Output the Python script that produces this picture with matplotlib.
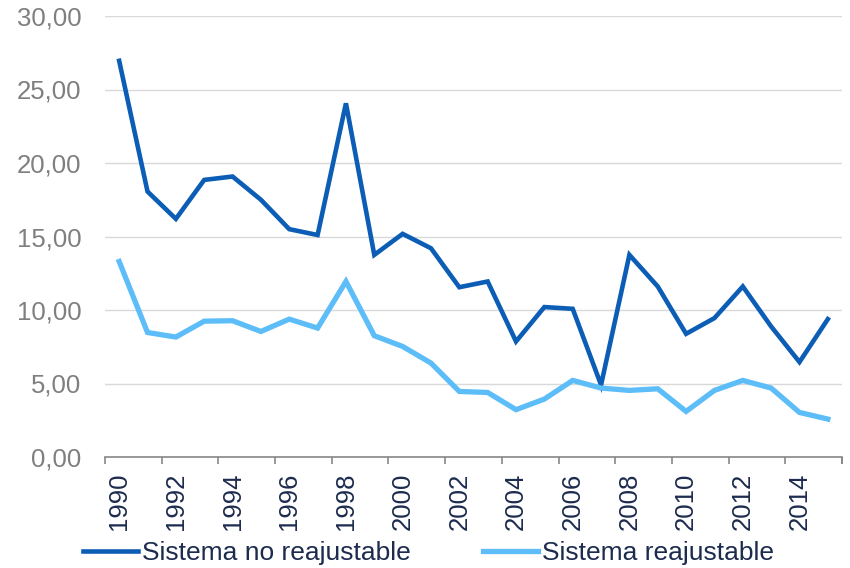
import matplotlib
matplotlib.use("Agg")
import matplotlib.pyplot as plt
from matplotlib.ticker import FixedLocator, FuncFormatter

plt.rcParams['font.family'] = ['Liberation Sans', 'DejaVu Sans']

years = list(range(1990, 2016))
no_reajustable = [26.95, 18.06, 16.2, 18.85, 19.08, 17.5, 15.5, 15.1, 24.06, 13.75,
                  15.18, 14.2, 11.55, 11.94, 7.86, 10.2, 10.08, 4.9, 13.75, 11.6,
                  8.38, 9.45, 11.6, 8.88, 6.46, 9.38]
reajustable = [13.3, 8.47, 8.16, 9.24, 9.27, 8.54, 9.38, 8.77, 11.94, 8.25,
               7.52, 6.39, 4.46, 4.39, 3.22, 3.94, 5.21, 4.69, 4.53, 4.64,
               3.1, 4.53, 5.21, 4.69, 3.03, 2.58]
series_names = ["Sistema no reajustable", "Sistema reajustable"]
y_ticks = [0, 5, 10, 15, 20, 25, 30]

dark = "#0B5DB5"
light = "#5CBDF9"
navy = "#1C2B4E"
gray = "#7F7F7F"

fig = plt.figure(figsize=(8.5, 5.68), dpi=100)
ax = fig.add_axes([105/850, 1 - 457/568, (842 - 105)/850, (457 - 16)/568])

x = list(range(len(years)))
ax.plot(x, no_reajustable, color=dark, lw=3.3, solid_joinstyle='miter', label=series_names[0], zorder=3)
ax.plot(x, reajustable, color=light, lw=3.8, solid_joinstyle='miter', label=series_names[1], zorder=3)

ax.set_xlim(-0.5, len(years) - 0.5)
ax.set_ylim(0, 30)

ax.set_yticks(y_ticks)
ax.yaxis.set_major_formatter(FuncFormatter(lambda v, p: f"{v:.2f}".replace('.', ',')))
ax.tick_params(axis='y', length=0, pad=17, labelsize=18.5, labelcolor=gray)
ax.grid(axis='y', color='#D9D9D9', lw=1.0, zorder=0)
ax.set_axisbelow(True)

label_pos = x[::2]
ax.xaxis.set_major_locator(FixedLocator(label_pos))
ax.set_xticklabels([str(years[i]) for i in label_pos], rotation=90)
ax.xaxis.set_minor_locator(FixedLocator([i - 0.5 for i in range(0, len(years) + 1, 2)] + [len(years) - 0.5]))
ax.tick_params(axis='x', which='major', length=0, pad=11, labelsize=18.5, labelcolor=navy)
ax.tick_params(axis='x', which='minor', length=5, width=1.2, color='#888888', direction='out')

for s in ['top', 'right', 'left']:
    ax.spines[s].set_visible(False)
ax.spines['bottom'].set_color('#888888')
ax.spines['bottom'].set_linewidth(1.2)

fig.legend(loc='center left', bbox_to_anchor=(83/850, 1 - 553/568), ncol=2, frameon=False,
           fontsize=19, labelcolor=navy, handlelength=2.08, handletextpad=0.15,
           columnspacing=2.75, borderpad=0, borderaxespad=0)

fig.savefig("out.png", dpi=100)
